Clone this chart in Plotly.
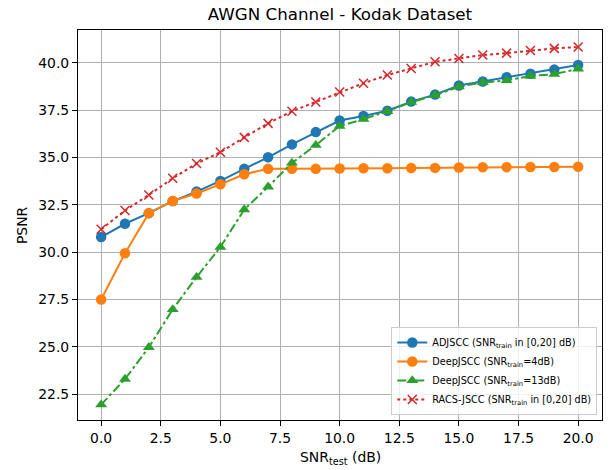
import plotly.graph_objects as go

snr = list(range(0, 21))
adjscc = [30.8, 31.5, 32.06, 32.7, 33.2, 33.76, 34.4, 35.01, 35.69, 36.34, 36.95,
          37.19, 37.47, 37.95, 38.32, 38.8, 39.01, 39.24, 39.42, 39.64, 39.88]
deep4 = [27.5, 29.94, 32.06, 32.7, 33.1, 33.58, 34.11, 34.4, 34.4, 34.4, 34.42,
         34.43, 34.43, 34.44, 34.45, 34.47, 34.48, 34.49, 34.5, 34.5, 34.51]
deep13 = [21.95, 23.3, 24.98, 26.98, 28.68, 30.27, 32.25, 33.45, 34.71, 35.65, 36.66,
          37.02, 37.44, 37.92, 38.29, 38.74, 38.96, 39.07, 39.3, 39.4, 39.68]
racs = [31.21, 32.2, 33.02, 33.9, 34.68, 35.28, 36.06, 36.8, 37.44, 37.93, 38.46,
        38.92, 39.35, 39.7, 40.05, 40.23, 40.41, 40.51, 40.65, 40.76, 40.83]

names = ["ADJSCC (SNR<sub>train</sub> in [0,20] dB)",
         "DeepJSCC (SNR<sub>train</sub>=4dB)",
         "DeepJSCC (SNR<sub>train</sub>=13dB)",
         "RACS-JSCC (SNR<sub>train</sub> in [0,20] dB)"]
xticks = [0, 2.5, 5, 7.5, 10, 12.5, 15, 17.5, 20]
yticks = [22.5, 25, 27.5, 30, 32.5, 35, 37.5, 40]

FONT = "DejaVu Sans"
fig = go.Figure()
fig.add_trace(go.Scatter(x=snr, y=adjscc, name=names[0], mode="lines+markers",
                         line=dict(color="#1f77b4", width=2),
                         marker=dict(symbol="circle", size=10.5, color="#1f77b4")))
fig.add_trace(go.Scatter(x=snr, y=deep4, name=names[1], mode="lines+markers",
                         line=dict(color="#ff7f0e", width=2),
                         marker=dict(symbol="circle", size=10.5, color="#ff7f0e")))
fig.add_trace(go.Scatter(x=snr, y=deep13, name=names[2], mode="lines+markers",
                         line=dict(color="#2ca02c", width=2, dash="dashdot"),
                         marker=dict(symbol="triangle-up", size=10.5, color="#2ca02c")))
fig.add_trace(go.Scatter(x=snr, y=racs, name=names[3], mode="lines+markers",
                         line=dict(color="#d62728", width=2, dash="dot"),
                         marker=dict(symbol="x-thin", size=9, color="#d62728",
                                     line=dict(color="#d62728", width=1.5))))

axis_common = dict(showgrid=True, gridcolor="#b0b0b0", gridwidth=0.8,
                   showline=True, linecolor="black", linewidth=1, mirror=True,
                   ticks="outside", ticklen=5, tickcolor="black", tickwidth=1,
                   zeroline=False, tickfont=dict(family=FONT, size=13.9, color="black"))
fig.update_xaxes(range=[-0.97, 21.0], tickvals=xticks, tickformat=".1f", **axis_common)
fig.update_yaxes(range=[21.14, 41.73], tickvals=yticks, tickformat=".1f", **axis_common)

fig.update_layout(
    width=613, height=470,
    margin=dict(l=78, r=11, t=30, b=50),
    paper_bgcolor="white", plot_bgcolor="white",
    font=dict(family=FONT, color="black"),
    title=dict(text="AWGN Channel - Kodak Dataset", x=340 / 613, xanchor="center",
               y=1 - 14 / 470, yanchor="middle", yref="container",
               font=dict(family=FONT, size=16.7, color="black")),
    legend=dict(x=0.991, y=0.013, xanchor="right", yanchor="bottom",
                bgcolor="rgba(255,255,255,0.8)", bordercolor="#cccccc", borderwidth=1,
                font=dict(family=FONT, size=9.7, color="black"), tracegroupgap=0),
    showlegend=True,
    annotations=[
        dict(text="SNR<sub>test</sub> (dB)", xref="paper", yref="paper",
             x=0.5, y=(420 - 458) / 390, xanchor="center", yanchor="middle",
             showarrow=False, font=dict(family=FONT, size=13.9, color="black")),
        dict(text="PSNR", xref="paper", yref="paper", textangle=-90,
             x=(22 - 78) / 524.5, y=0.5, xanchor="center", yanchor="middle",
             showarrow=False, font=dict(family=FONT, size=13.9, color="black")),
    ],
)

fig.write_html("out.html", config={"displayModeBar": False},
               post_script="document.body.style.margin='0';document.body.style.overflow='hidden';")
